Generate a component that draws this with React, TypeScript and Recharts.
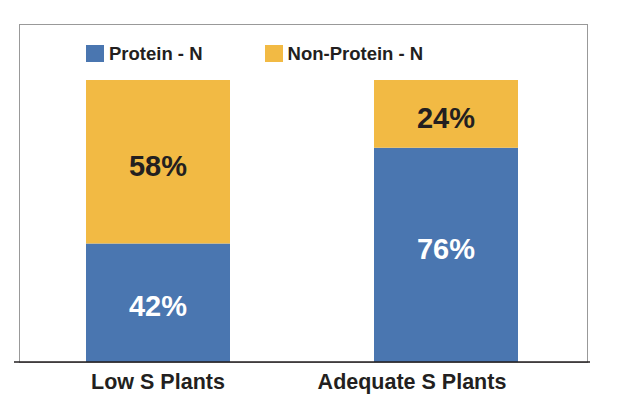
import { BarChart, Bar, XAxis, YAxis, LabelList } from "recharts";

const categories = ["Low S Plants", "Adequate S Plants"];
const proteinN = [42, 76];
const nonProteinN = [58, 24];

const data = categories.map((name, i) => ({
  name,
  protein: proteinN[i],
  nonProtein: nonProteinN[i],
}));

const BLUE = "#4a76b0";
const ORANGE = "#f2ba44";
const INK = "#231f20";
const FONT = "'Liberation Sans', Arial, Helvetica, sans-serif";

// the second category label sits left of its bar in the original
const tickShift = [0, -34];
// small vertical nudges of the value labels, per bar
const proteinNudge = [3, -6];
const nonProteinNudge = [4, 4];

const CategoryTick = (props: any) => {
  const { x, y, payload, index } = props;
  return (
    <text
      x={x + (tickShift[index] || 0)}
      y={y + 19}
      textAnchor="middle"
      fill={INK}
      fontSize={21.5}
      fontWeight="bold"
      fontFamily={FONT}
    >
      {payload.value}
    </text>
  );
};

const makeLabel = (color: string, nudge: number[]) => (props: any) => {
  const { x, y, width, height, value, index } = props;
  return (
    <text
      x={x + width / 2}
      y={y + height / 2 + (nudge[index] || 0)}
      textAnchor="middle"
      dominantBaseline="central"
      fill={color}
      fontSize={29}
      fontWeight="bold"
      fontFamily={FONT}
    >
      {`${value}%`}
    </text>
  );
};

export default function App() {
  return (
    <div style={{ position: "absolute", left: 0, top: 0, width: 630, height: 410, background: "#fff" }}>
      <div
        style={{
          position: "absolute",
          left: 19,
          top: 24,
          width: 567,
          height: 337,
          border: "1.5px solid #999",
        }}
      />
      <div
        style={{
          position: "absolute",
          left: 86,
          top: 44,
          display: "flex",
          alignItems: "center",
          fontFamily: FONT,
          fontWeight: "bold",
          fontSize: 18.5,
          color: INK,
          lineHeight: "19px",
        }}
      >
        <span style={{ width: 18, height: 17, background: BLUE, display: "inline-block", marginRight: 5 }} />
        <span>Protein - N</span>
        <span style={{ width: 18, height: 17, background: ORANGE, display: "inline-block", marginLeft: 62, marginRight: 5 }} />
        <span>Non-Protein - N</span>
      </div>
      <BarChart
        width={630}
        height={410}
        data={data}
        margin={{ top: 80, right: 40, left: 14, bottom: 18 }}
        barCategoryGap="25%"
        style={{ position: "absolute", left: 0, top: 0 }}
      >
        <XAxis
          dataKey="name"
          height={30}
          axisLine={{ stroke: INK, strokeWidth: 1.3 }}
          tickLine={false}
          tick={<CategoryTick />}
        />
        <YAxis hide domain={[0, 100]} />
        <Bar dataKey="protein" stackId="a" fill={BLUE} isAnimationActive={false}>
          <LabelList dataKey="protein" content={makeLabel("#fff", proteinNudge)} />
        </Bar>
        <Bar dataKey="nonProtein" stackId="a" fill={ORANGE} isAnimationActive={false}>
          <LabelList dataKey="nonProtein" content={makeLabel(INK, nonProteinNudge)} />
        </Bar>
      </BarChart>
    </div>
  );
}
